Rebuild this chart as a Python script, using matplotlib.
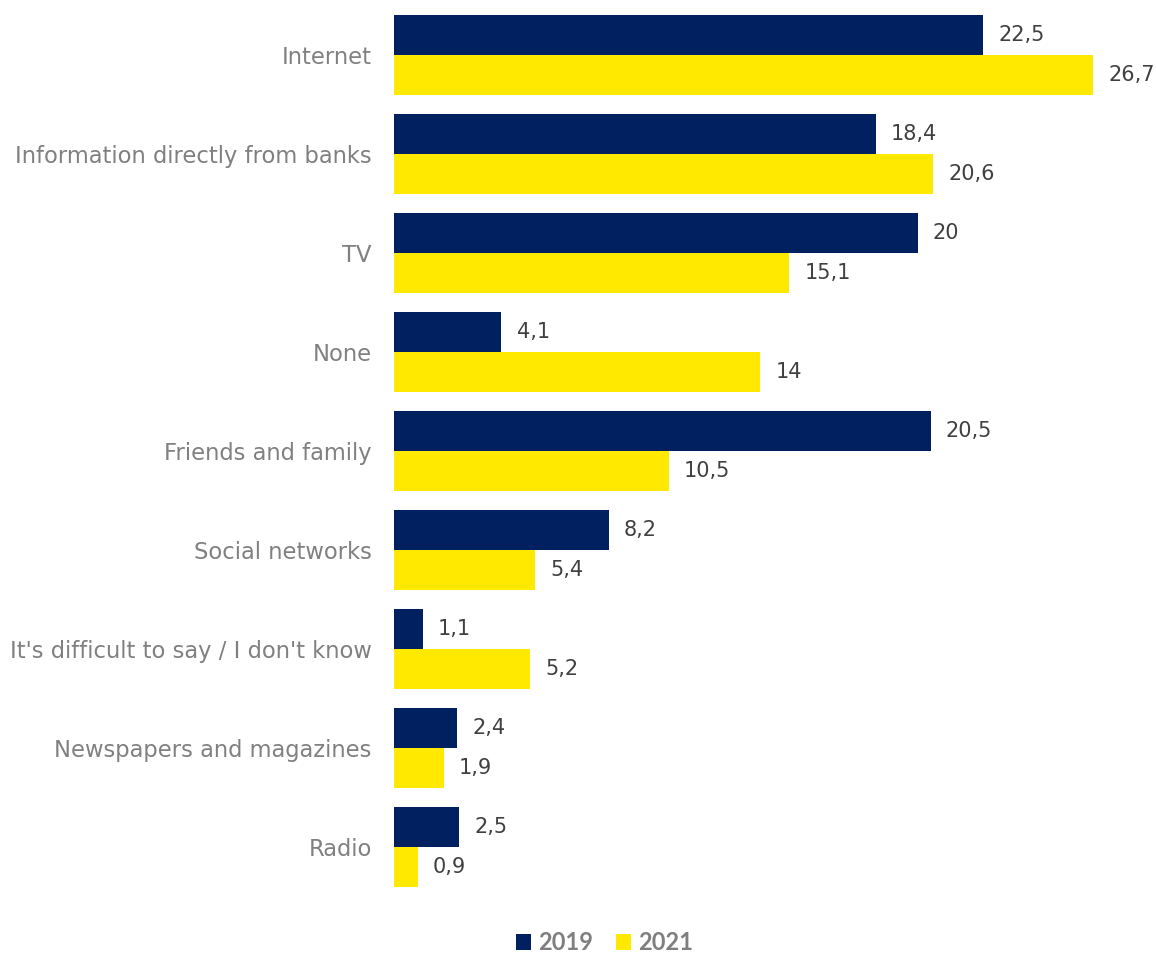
import numpy as np
import matplotlib.pyplot as plt

# Sources of information, survey shares (%)
categories = ["Internet", "Information directly from banks", "TV", "None",
              "Friends and family", "Social networks",
              "It's difficult to say / I don't know",
              "Newspapers and magazines", "Radio"]
values_2019 = [22.5, 18.4, 20, 4.1, 20.5, 8.2, 1.1, 2.4, 2.5]
values_2021 = [26.7, 20.6, 15.1, 14, 10.5, 5.4, 5.2, 1.9, 0.9]
years = ["2019", "2021"]

navy = "#002060"
yellow = "#FFE900"

plt.rcParams['font.family'] = ['DejaVu Sans']

fig = plt.figure(figsize=(11.56, 9.6), dpi=100)
ax = fig.add_axes([0.3408, 0.0661, 0.6567, 0.9281])

y = np.arange(len(categories))
h = 0.404

b1 = ax.barh(y - h / 2, values_2019, height=h, color=navy, label=years[0])
b2 = ax.barh(y + h / 2, values_2021, height=h, color=yellow, label=years[1])

def fmt(v):
    return ("%g" % v).replace(".", ",")

for bars, vals in ((b1, values_2019), (b2, values_2021)):
    ax.bar_label(bars, labels=[fmt(v) for v in vals], padding=11,
                 fontsize=15, color="#404040")

ax.set_xlim(0, 29)
ax.set_ylim(len(categories) - 0.5, -0.5)
ax.set_yticks(y)
ax.set_yticklabels(categories, fontsize=16.3, color="#808080")
ax.tick_params(axis="y", length=0, pad=16)
ax.set_xticks([])
for s in ax.spines.values():
    s.set_visible(False)

fig.legend(loc="lower center", bbox_to_anchor=(0.523, -0.016), ncol=2,
           frameon=False, handlelength=0.65, handleheight=0.65,
           handletextpad=0.3, columnspacing=0.95,
           prop={"family": "Lato", "size": 17, "weight": "bold"},
           labelcolor="#7F7F7F")

fig.savefig("out.png", dpi=100)
